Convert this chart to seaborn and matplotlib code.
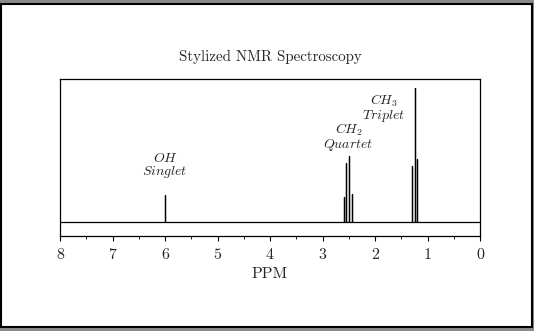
import matplotlib
matplotlib.use("Agg")
import matplotlib.pyplot as plt
from matplotlib.patches import Rectangle
import seaborn as sns
import numpy as np

# ---- data ----
peak_ppm = [6.00, 2.59, 2.547, 2.495, 2.444, 1.30, 1.244, 1.20]
peak_height = [0.19, 0.17, 0.41, 0.46, 0.195, 0.39, 0.94, 0.44]
group_labels = [r"$OH$" + "\n" + r"$Singlet$",
                r"$CH_2$" + "\n" + r"$Quartet$",
                r"$CH_3$" + "\n" + r"$Triplet$"]
group_label_x = [6.0, 2.50, 1.83]
group_label_y = [0.29, 0.485, 0.685]
tick_values = [8, 7, 6, 5, 4, 3, 2, 1, 0]
tick_labels = ["8", "7", "6", "5", "4", "3", "2", "1", "0"]
ppm_range = (8, 0)

# build spectrum trace (baseline with spikes)
xs = [ppm_range[0]]
ys = [0.0]
for p, h in zip(peak_ppm, peak_height):
    xs += [p, p, p]
    ys += [0.0, h, 0.0]
xs.append(ppm_range[1])
ys.append(0.0)

sns.set_theme(style="white")
plt.rcParams["font.family"] = ["cmr10"]
plt.rcParams["mathtext.fontset"] = "cm"
plt.rcParams["axes.unicode_minus"] = False
plt.rcParams["axes.formatter.use_mathtext"] = True

W, H = 534, 331
fig = plt.figure(figsize=(W / 100, H / 100), dpi=100, facecolor="#8a8a8a")
fig.patches.append(Rectangle((1 / W, 4 / H), 531 / W, 323.5 / H,
                             transform=fig.transFigure, facecolor="white",
                             edgecolor="black", linewidth=1.5, zorder=-10))
ax = fig.add_axes([60 / W, 1 - 236 / H, 420 / W, 157 / H])
ax.set_facecolor("white")

sns.lineplot(x=xs, y=ys, sort=False, estimator=None, color="black",
             linewidth=0.9, ax=ax)

for lab, lx, ly in zip(group_labels, group_label_x, group_label_y):
    ax.text(lx, ly, lab, ha="center", va="bottom", fontsize=10,
            linespacing=0.9)

ax.set_xlim(*ppm_range)
ax.set_ylim(-0.1, 1.0)
ax.set_yticks([])
ax.set_xticks(tick_values)
ax.set_xticklabels(tick_labels, fontsize=11.5)
ax.set_xticks(np.arange(0.5, 8, 1.0), minor=True)
ax.tick_params(axis="x", which="major", direction="out", length=3.5,
               width=0.8, color="black", bottom=True, pad=5.5)
ax.tick_params(axis="x", which="minor", direction="out", length=2,
               width=0.6, color="black", bottom=True)
for s in ax.spines.values():
    s.set_color("black")
    s.set_linewidth(0.9)
ax.set_xlabel("PPM", fontsize=11.5, labelpad=4)
ax.set_title("Stylized NMR Spectroscopy", fontsize=10.8, pad=13)

fig.savefig("out.png", dpi=100, facecolor=fig.get_facecolor())
